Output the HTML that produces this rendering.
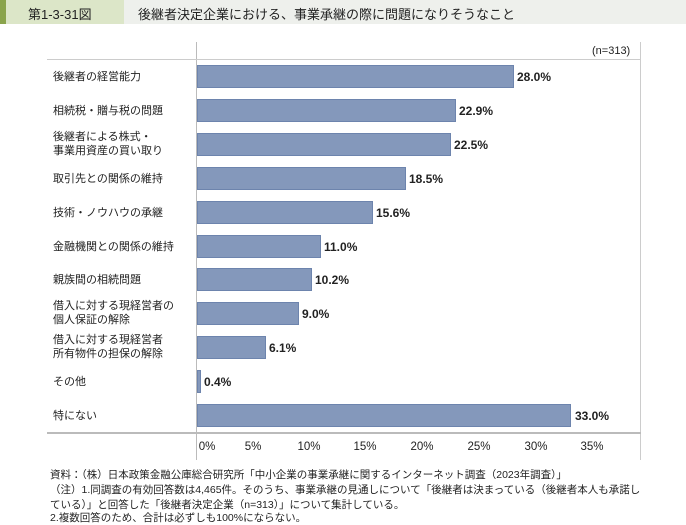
<!DOCTYPE html>
<html><head><meta charset="utf-8"><style>
body{margin:0;width:686px;height:523px;background:#fff;font-family:"Liberation Sans","Noto Sans CJK JP",sans-serif;position:relative;overflow:hidden;color:#222}
.a{position:absolute;white-space:nowrap}
.bar{position:absolute;left:197px;height:23px;background:#8498bb;border:1px solid #6d84ad;box-sizing:border-box}
.lab{position:absolute;left:53px;font-size:11px;line-height:14px}
.val{position:absolute;font-size:12px;font-weight:bold;line-height:14px}
.tk{position:absolute;top:441px;font-size:11.5px;width:40px;text-align:center}
.n{position:absolute;left:50px;font-size:10.5px;line-height:14px}
</style></head><body>
<div class="a" style="left:0;top:0;width:686px;height:24px;background:#eef0ec"></div>
<div class="a" style="left:0;top:0;width:6px;height:24px;background:#8aa44c"></div>
<div class="a" style="left:6px;top:0;width:118px;height:24px;background:#dce6c8"></div>
<div class="a" style="left:28px;top:4px;font-size:13px">第1-3-31図</div>
<div class="a" style="left:138px;top:4px;font-size:13px">後継者決定企業における、事業承継の際に問題になりそうなこと</div>
<div class="a" style="left:196px;top:42px;width:1px;height:418px;background:#bbb"></div>
<div class="a" style="left:640px;top:42px;width:1px;height:418px;background:#ccc"></div>
<div class="a" style="left:47px;top:59px;width:594px;height:1px;background:#ccc"></div>
<div class="a" style="left:47px;top:432px;width:594px;height:2px;background:#bbb"></div>
<div class="a" style="left:592px;top:45px;font-size:11px">(n=313)</div>

<div class="bar" style="top:65px;width:317px"></div><div class="val" style="top:70px;left:517px">28.0%</div><div class="lab" style="top:70px">後継者の経営能力</div>
<div class="bar" style="top:99px;width:259px"></div><div class="val" style="top:104px;left:459px">22.9%</div><div class="lab" style="top:104px">相続税・贈与税の問題</div>
<div class="bar" style="top:133px;width:254px"></div><div class="val" style="top:138px;left:454px">22.5%</div><div class="lab" style="top:130px">後継者による株式・<br>事業用資産の買い取り</div>
<div class="bar" style="top:167px;width:209px"></div><div class="val" style="top:172px;left:409px">18.5%</div><div class="lab" style="top:172px">取引先との関係の維持</div>
<div class="bar" style="top:201px;width:176px"></div><div class="val" style="top:206px;left:376px">15.6%</div><div class="lab" style="top:206px">技術・ノウハウの承継</div>
<div class="bar" style="top:235px;width:124px"></div><div class="val" style="top:240px;left:324px">11.0%</div><div class="lab" style="top:240px">金融機関との関係の維持</div>
<div class="bar" style="top:268px;width:115px"></div><div class="val" style="top:273px;left:315px">10.2%</div><div class="lab" style="top:273px">親族間の相続問題</div>
<div class="bar" style="top:302px;width:102px"></div><div class="val" style="top:307px;left:302px">9.0%</div><div class="lab" style="top:299px">借入に対する現経営者の<br>個人保証の解除</div>
<div class="bar" style="top:336px;width:69px"></div><div class="val" style="top:341px;left:269px">6.1%</div><div class="lab" style="top:333px">借入に対する現経営者<br>所有物件の担保の解除</div>
<div class="bar" style="top:370px;width:4px"></div><div class="val" style="top:375px;left:204px">0.4%</div><div class="lab" style="top:375px">その他</div>
<div class="bar" style="top:404px;width:374px"></div><div class="val" style="top:409px;left:575px">33.0%</div><div class="lab" style="top:409px">特にない</div>

<div class="tk" style="left:187px">0%</div><div class="tk" style="left:233px">5%</div><div class="tk" style="left:289px">10%</div><div class="tk" style="left:345px">15%</div><div class="tk" style="left:402px">20%</div><div class="tk" style="left:459px">25%</div><div class="tk" style="left:516px">30%</div><div class="tk" style="left:572px">35%</div>

<div class="n" style="top:468px">資料：（株）日本政策金融公庫総合研究所「中小企業の事業承継に関するインターネット調査（2023年調査）」</div>
<div class="n" style="top:483px">（注）1.同調査の有効回答数は4,465件。そのうち、事業承継の見通しについて「後継者は決まっている（後継者本人も承諾し</div>
<div class="n" style="top:498px">ている）」と回答した「後継者決定企業（n=313）」について集計している。</div>
<div class="n" style="top:511px">2.複数回答のため、合計は必ずしも100%にならない。</div>
</body></html>
